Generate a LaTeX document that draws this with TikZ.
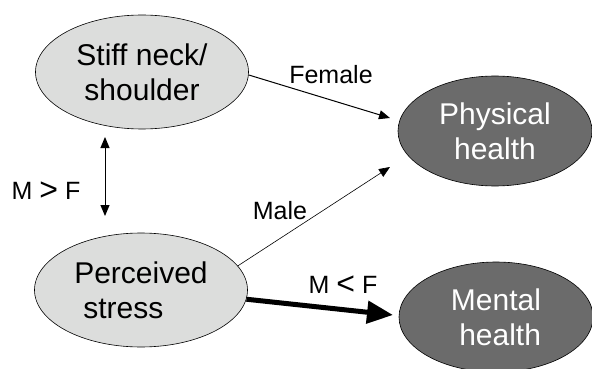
\documentclass[tikz,border=0pt]{standalone}
\usepackage{fontspec}
\setmainfont{Liberation Sans}
\usetikzlibrary{shapes.geometric,arrows.meta}
\definecolor{lightfill}{HTML}{DCDDDC}
\definecolor{darkfill}{HTML}{6B6B6B}
\tikzset{
  lightell/.style={ellipse, draw=black, line width=0.6pt, fill=lightfill, inner sep=0pt,
    minimum width=213pt, minimum height=114pt, font=\fontsize{30}{35}\selectfont, align=center},
  darkell/.style={ellipse, draw=black, line width=0.6pt, fill=darkfill, text=white, inner sep=0pt,
    minimum width=194pt, minimum height=110pt, font=\fontsize{30}{35}\selectfont, align=center},
  lbl/.style={font=\fontsize{25}{28}\selectfont, inner sep=0pt},
  arr/.style={line width=1pt, -{Triangle[length=11pt,width=9pt]}},
}
\newcommand{\bigrel}[1]{\raisebox{-1pt}{\fontsize{32}{32}\selectfont #1}}
\begin{document}
\begin{tikzpicture}[x=1pt,y=-1pt]
\useasboundingbox (0,0) rectangle (592,369);
\node[lightell] (stiff) at (142,72) {Stiff neck/\\shoulder};
\node[lightell, align=left] (ps) at (141,290) {Perceived\\\hspace{9pt}stress};
\node[darkell] (phys) at (495,131) {Physical\\health};
\node[darkell, align=right] (ment) at (496,317) {Mental\\health};
\coordinate (pf) at (390,118);
\coordinate (pm) at (390,167);
\coordinate (mt) at (393,315);
\coordinate (vt) at (105,137);
\coordinate (vb) at (105,216);
\draw[arr] (stiff.east) ++(0,3) -- (pf);
\draw[line width=0.6pt, -{Triangle[length=11pt,width=9pt]}] (ps.14) -- (pm);
\draw[line width=5pt, -{Triangle[length=26pt,width=22pt]}] (ps.-5) -- (mt);
\draw[line width=1pt, {Triangle[length=11pt,width=9pt]}-{Triangle[length=11pt,width=9pt]}] (vt) -- (vb);
\node[lbl] (lf) at (331,75) {Female};
\node[lbl] (lm) at (280,211) {Male};
\node[lbl] (lmf1) at (46,191) {M \bigrel{>} F};
\node[lbl] (lmf2) at (343,285) {M \bigrel{<} F};
\end{tikzpicture}
\end{document}
